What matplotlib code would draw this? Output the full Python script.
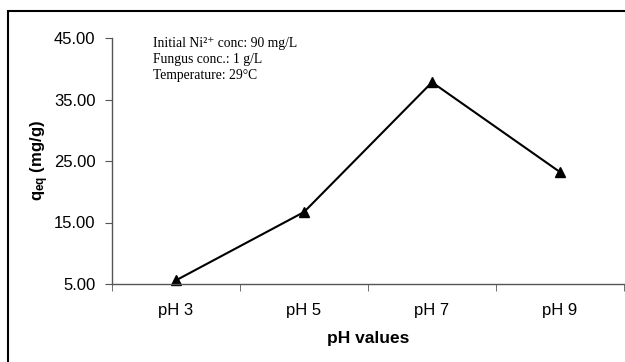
import numpy as np
import matplotlib
matplotlib.use('Agg')
import matplotlib.pyplot as plt
from matplotlib.patches import Rectangle

categories = ['pH 3', 'pH 5', 'pH 7', 'pH 9']
qeq = [5.6, 16.7, 37.8, 23.2]
yticks = [5, 15, 25, 35, 45]

plt.rcParams['font.family'] = ['Liberation Sans', 'DejaVu Sans']
plt.rcParams['mathtext.fontset'] = 'custom'
plt.rcParams['mathtext.bf'] = 'Liberation Sans:bold'

fig = plt.figure(figsize=(6.25, 3.62), dpi=100)
ax = fig.add_axes([112/625, 78/362, 512/625, 246/362])

x = np.arange(len(categories))
ax.plot(x, qeq, color='black', lw=1.5, marker='^', markersize=7, clip_on=False)

ax.set_xlim(-0.5, len(categories) - 0.5)
ax.set_ylim(5, 45)
ax.set_yticks(yticks)
ax.set_yticklabels(['%.2f' % v for v in yticks], fontsize=12)
ax.set_xticks(x)
ax.set_xticklabels(categories, fontsize=12)
ax.set_xticks(np.arange(-0.5, len(categories)), minor=True)
ax.tick_params(axis='x', which='major', length=0, pad=14)
ax.tick_params(axis='x', which='minor', length=5, direction='out', color='#555555')
ax.tick_params(axis='y', length=5, direction='out', color='#555555', pad=7)

for s in ['top', 'right']:
    ax.spines[s].set_visible(False)
for s in ['left', 'bottom']:
    ax.spines[s].set_color('#555555')
    ax.spines[s].set_linewidth(1.0)

ax.set_xlabel('pH values', fontsize=12.5, fontweight='bold', labelpad=9)
ax.set_ylabel(r'$\mathbf{q_{eq}}$ (mg/g)', fontsize=12, fontweight='bold', labelpad=2)

ax.text(0.08, 1.005, 'Initial Ni²⁺ conc: 90 mg/L\nFungus conc.: 1 g/L\nTemperature: 29°C',
        transform=ax.transAxes, family=['Liberation Serif', 'DejaVu Serif'], fontsize=9.8,
        va='top', ha='left', linespacing=1.3)

fig.patches.append(Rectangle((8/625, -0.1), 1.2, (362 - 11)/362 + 0.1,
                             transform=fig.transFigure, fill=False,
                             edgecolor='black', lw=1.5))

fig.savefig('out.png', dpi=100)
